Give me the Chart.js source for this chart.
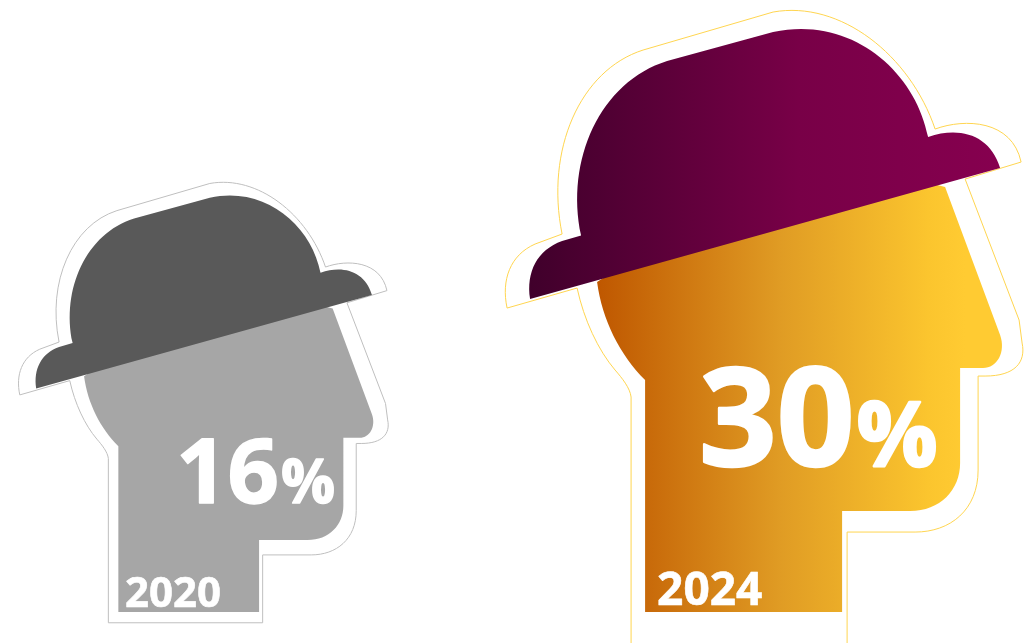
<!DOCTYPE html>
<html>
<head>
<meta charset="utf-8">
<title>Share by year</title>
<script src="https://cdn.jsdelivr.net/npm/chart.js@4/dist/chart.umd.min.js"></script>
<style>
    html, body { margin: 0; padding: 0; background: #fff; overflow: hidden; }
    canvas { display: block; }
</style>
</head>
<body>
<canvas id="headChart" width="1032" height="643"></canvas>
<script>
const years = [2020, 2024];
const shares = [16, 30];

// Hidden value at which the feet of the heads stand
const headFloor = -19;

// Head and bowler hat, drawn in their own space: 583 tall, feet on y=612, centred on x=765
const designHeight = 583;
const designCenterX = 765;
const designBaseY = 612;
const headPath = new Path2D('M597 282 C602 320 620 355 645 380 L645 612 L842 612 L842 511 L910 511 C940 511 960 490 960 463 L960 368 L983 368 C997 368 1006 352 1000 335 L945 187 L800 150 Z');
const hatPath = new Path2D('M530 299 C526 272 537 250 562 241 L581 235.5 C565 160 600 82 667 61 L773 32 C850 15 915 70 928 137 C960 126 990 135 1000 168 Z');

function outlinePath(footY) {
    return new Path2D('M507 308 C501 280 510 255 535 244 L562 234 C545 150 580 70 643 50 L773 12 C840 0 910 55 935 129 C965 118 1012 120 1021 162 L965 179 L1019 320 L1022 343 C1026 362 1015 376 985 376 L978 376 L978 470 C978 510 950 532 915 532 L847 532 L847 ' + footY + ' L631 ' + footY + ' L631 397 C630 388 622 378 615 370 C598 350 584 320 577 288 Z');
}

const headLooks = [
    {
        head: [[0, '#a6a6a6'], [1, '#a6a6a6']],
        hat: [[0, '#595959'], [1, '#595959']],
        outline: '#bfbfbf', footY: 627,
        valueX: -28, valueY: -109, valueFont: 90, percentFont: 60, weight: 1.5,
        yearX: -79, yearY: -5, yearFont: 42
    },
    {
        head: [[0, '#bf5700'], [0.5, '#e09c24'], [0.9, '#fbc52e'], [1, '#ffcb32']],
        hat: [[0, '#40002b'], [0.57, '#780047'], [1, '#86004f']],
        outline: '#ffd54f', footY: 670,
        valueX: -66, valueY: -146, valueFont: 136, percentFont: 90, weight: 2.5,
        yearX: -108, yearY: -7, yearFont: 46
    }
];

const fontFamily = '"Open Sans", "Noto Sans", sans-serif';

function ramp(ctx, x0, x1, stops) {
    let g = ctx.createLinearGradient(x0, 0, x1, 0);
    stops.forEach(stop => g.addColorStop(stop[0], stop[1]));
    return g;
}

// Paints a head over each bar, sized from the bar's own height
const headPlugin = {
    id: 'headPlugin',
    afterDatasetsDraw(chart) {
        const ctx = chart.ctx;
        chart.getDatasetMeta(0).data.forEach((bar, i) => {
            const look = headLooks[i];
            const s = (bar.base - bar.y) / designHeight;

            ctx.save();
            ctx.translate(bar.x, bar.base);
            ctx.scale(s, s);
            ctx.translate(-designCenterX, -designBaseY);

            ctx.strokeStyle = look.outline;
            ctx.lineWidth = 1 / s;
            ctx.stroke(outlinePath(look.footY));

            ctx.fillStyle = ramp(ctx, 597, 965, look.head);
            ctx.fill(headPath);
            ctx.fillStyle = ramp(ctx, 530, 1000, look.hat);
            ctx.fill(hatPath);
            ctx.restore();

            // Labels, thickened a little with a white stroke
            ctx.save();
            ctx.fillStyle = '#fff';
            ctx.strokeStyle = '#fff';
            ctx.lineJoin = 'round';
            ctx.textBaseline = 'alphabetic';
            ctx.textAlign = 'left';
            const valueText = String(shares[i]);
            ctx.font = '700 ' + look.valueFont + 'px ' + fontFamily;
            ctx.lineWidth = look.weight;
            const left = bar.x + look.valueX;
            const baseline = bar.base + look.valueY;
            ctx.fillText(valueText, left, baseline);
            ctx.strokeText(valueText, left, baseline);
            const w = ctx.measureText(valueText).width;
            ctx.font = '700 ' + look.percentFont + 'px ' + fontFamily;
            ctx.fillText('%', left + w + 2, baseline);
            ctx.strokeText('%', left + w + 2, baseline);

            ctx.font = '700 ' + look.yearFont + 'px ' + fontFamily;
            ctx.lineWidth = 0.6;
            ctx.fillText(String(years[i]), bar.x + look.yearX, bar.base + look.yearY);
            ctx.strokeText(String(years[i]), bar.x + look.yearX, bar.base + look.yearY);
            ctx.restore();
        });
    }
};

new Chart(document.getElementById('headChart'), {
    type: 'bar',
    data: {
        datasets: [{
            data: years.map((year, i) => ({ x: year, y: shares[i] })),
            base: headFloor,
            backgroundColor: 'rgba(0,0,0,0)',
            barThickness: 100
        }]
    },
    options: {
        responsive: false,
        animation: false,
        events: [],
        layout: { padding: 0 },
        plugins: { legend: { display: false }, tooltip: { enabled: false } },
        scales: {
            x: { type: 'linear', display: false, offset: false, min: 2018.545, max: 2025.903 },
            y: { display: false, min: -21.6, max: 32.44 }
        }
    },
    plugins: [headPlugin]
});
</script>
</body>
</html>
